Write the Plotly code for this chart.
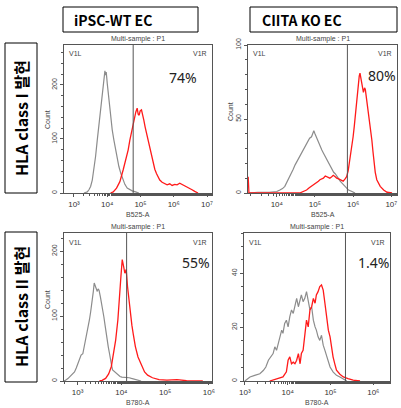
import numpy as np
import plotly.graph_objects as go

# ---------------- data (log10 intensity, counts) ----------------
p1_grey_log = [3.30, 3.40, 3.45, 3.50, 3.55, 3.60, 3.65, 3.70, 3.75, 3.80, 3.84, 3.87, 3.90, 3.93, 3.95, 3.97, 4.00, 4.03, 4.07, 4.11, 4.15, 4.20, 4.25, 4.30, 4.35, 4.41, 4.47, 4.53, 4.60, 4.67, 4.75, 4.85, 4.95]
p1_grey_cnt = [0, 2, 6, 12, 24, 43, 68, 98, 128, 160, 185, 203, 215, 226, 218, 224, 203, 185, 160, 138, 117, 98, 80, 63, 49, 36, 24, 16, 9, 6, 4, 2, 0]
p1_red_log = [4.10, 4.18, 4.28, 4.38, 4.48, 4.55, 4.58, 4.63, 4.68, 4.72, 4.76, 4.80, 4.83, 4.86, 4.90, 4.93, 4.96, 4.99, 5.03, 5.06, 5.10, 5.14, 5.18, 5.23, 5.28, 5.33, 5.38, 5.43, 5.48, 5.53, 5.58, 5.65, 5.73, 5.80, 5.88, 5.95, 6.03, 6.10, 6.18, 6.25, 6.33, 6.40, 6.48, 6.55, 6.63, 6.73]
p1_red_cnt = [0, 2, 9, 21, 43, 58, 67, 80, 98, 110, 123, 135, 141, 150, 157, 146, 144, 152, 154, 142, 135, 122, 111, 95, 80, 66, 55, 44, 36, 29, 24, 20, 18, 15, 17, 14, 16, 15, 18, 16, 13, 11, 9, 6, 3, 0]
p1_gate_log = 4.78

p2_grey_log = [3.25, 3.50, 3.80, 4.00, 4.08, 4.15, 4.21, 4.28, 4.34, 4.39, 4.43, 4.48, 4.52, 4.57, 4.61, 4.65, 4.69, 4.73, 4.76, 4.79, 4.82, 4.86, 4.91, 4.94, 4.97, 5.00, 5.03, 5.06, 5.09, 5.13, 5.18, 5.22, 5.26, 5.31, 5.35, 5.40, 5.44, 5.49, 5.53, 5.57, 5.61, 5.66, 5.70, 5.75, 5.79, 5.84, 5.88, 5.97, 6.05]
p2_grey_cnt = [0, 0.5, 0.5, 1, 2, 3, 4.5, 8, 11, 13, 16, 19, 21, 23, 25, 27, 29, 31, 33, 34, 36, 37, 38, 40, 42, 40, 38, 36, 34, 31, 29, 27, 25, 22, 20, 18, 16, 14, 13, 11, 10, 8, 6.8, 5.5, 4.5, 3, 2, 1, 0]
p2_red_log = [3.25, 3.27, 4.60, 4.65, 4.72, 4.78, 4.85, 4.91, 4.97, 5.04, 5.09, 5.13, 5.18, 5.22, 5.27, 5.31, 5.35, 5.39, 5.44, 5.48, 5.53, 5.57, 5.62, 5.66, 5.70, 5.74, 5.79, 5.83, 5.87, 5.90, 5.94, 5.97, 6.00, 6.03, 6.06, 6.08, 6.11, 6.14, 6.16, 6.18, 6.21, 6.23, 6.25, 6.27, 6.30, 6.32, 6.34, 6.36, 6.40, 6.43, 6.46, 6.49, 6.52, 6.55, 6.58, 6.62, 6.66, 6.71, 6.80, 6.89, 7.02]
p2_red_cnt = [11, 0, 0, 0.5, 1.5, 2, 3.5, 4.5, 6, 7, 8, 9, 9.5, 10, 11.5, 11, 10.5, 10, 11, 12, 11, 10, 9.5, 9, 8.5, 8, 9.5, 11, 15, 20, 26, 32, 38, 45, 53, 61, 69, 77, 79, 81, 76, 73, 70, 68, 71, 70, 66, 62, 56, 50, 43, 36, 28, 20, 14, 9, 6.5, 4.5, 2, 0.5, 0]
p2_gate_log = 5.85

p3_grey_log = [2.69, 2.71, 2.78, 2.86, 2.93, 2.97, 3.01, 3.05, 3.08, 3.12, 3.15, 3.19, 3.23, 3.27, 3.30, 3.33, 3.36, 3.38, 3.41, 3.43, 3.45, 3.47, 3.49, 3.52, 3.55, 3.58, 3.60, 3.63, 3.65, 3.68, 3.70, 3.73, 3.75, 3.78, 3.80, 3.83, 3.86, 3.90, 3.93, 3.97, 4.01, 4.06, 4.12, 4.18, 4.23, 4.34, 4.45]
p3_grey_cnt = [0, 0.5, 3.7, 8.8, 14, 20, 27, 34, 40, 42, 52, 63, 78, 94, 107, 120, 138, 151, 146, 140, 138, 142, 140, 130, 120, 108, 99, 85, 73, 62, 53, 42, 32, 23, 17, 15, 14, 11, 9, 7, 6, 6, 6, 5, 4, 2, 0]
p3_red_log = [3.50, 3.56, 3.64, 3.71, 3.77, 3.82, 3.87, 3.92, 3.96, 3.99, 4.02, 4.04, 4.05, 4.08, 4.11, 4.14, 4.18, 4.21, 4.24, 4.27, 4.32, 4.38, 4.45, 4.53, 4.60, 4.71, 4.86, 5.04, 5.27, 5.49, 5.86]
p3_red_cnt = [0, 1, 4, 11, 22, 42, 63, 94, 125, 161, 187, 182, 177, 166, 172, 146, 120, 99, 86, 73, 53, 37, 27, 14, 9, 5, 2, 1.5, 2, 0.5, 0]
p3_gate_log = 4.12

p4_grey_log = [3.00, 3.12, 3.23, 3.35, 3.43, 3.49, 3.55, 3.60, 3.66, 3.70, 3.74, 3.78, 3.82, 3.86, 3.89, 3.93, 3.97, 4.01, 4.05, 4.09, 4.13, 4.17, 4.21, 4.25, 4.29, 4.32, 4.36, 4.40, 4.44, 4.48, 4.52, 4.56, 4.60, 4.64, 4.67, 4.71, 4.75, 4.79, 4.83, 4.87, 4.91, 4.95, 4.99, 5.06, 5.14, 5.22, 5.30, 5.38]
p4_grey_cnt = [0, 1.5, 2.1, 2.7, 3.9, 5.2, 7.7, 9, 10.2, 12.7, 11.4, 13.9, 16.4, 18.9, 17.7, 21.4, 22.6, 20.1, 23.9, 26.4, 25.1, 28.2, 30.7, 27.6, 30.1, 32, 29.5, 30.7, 33.2, 30.1, 26.4, 27.6, 22.6, 20.1, 18.9, 16.4, 15.1, 17, 13.3, 11.4, 9, 7, 5.2, 3.4, 2.1, 1.5, 0.6, 0]
p4_red_log = [3.58, 3.74, 3.89, 3.97, 4.01, 4.05, 4.09, 4.13, 4.17, 4.21, 4.25, 4.29, 4.32, 4.36, 4.40, 4.44, 4.48, 4.52, 4.56, 4.60, 4.64, 4.67, 4.71, 4.75, 4.79, 4.83, 4.87, 4.91, 4.95, 4.99, 5.02, 5.06, 5.10, 5.14, 5.22, 5.30, 5.41, 5.53, 5.69]
p4_red_cnt = [0, 0.9, 1.5, 3.4, 7.7, 9, 6.4, 7, 6.4, 7.7, 10.2, 6.4, 10.2, 11.4, 17.7, 22.6, 20.1, 26.4, 27.6, 30.7, 28.9, 32, 33.2, 35.1, 35.7, 33.8, 28.9, 22.6, 18.9, 16.4, 12.7, 9, 6.4, 4, 2.5, 1.5, 0.9, 0.3, 0]
p4_gate_log = 5.35

col_titles = ["iPSC-WT EC", "CIITA KO EC"]
row_titles = ["HLA class I 발현", "HLA class II 발현"]
percents = ["74%", "80%", "55%", "1.4%"]
x_titles = ["B525-A", "B525-A", "B780-A", "B780-A"]

# ---------------- layout geometry ----------------
W, H = 401, 408
def px(x): return x / W
def py(y): return 1 - y / H

panels = [
    dict(x0=64, x1=212, y0=45, y1=193, xr=[2.70, 7.15], yr=[0, 274], xt=[3, 4, 5, 6, 7], ydt=100, ymin=20,
         grey=(p1_grey_log, p1_grey_cnt), red=(p1_red_log, p1_red_cnt), gate=p1_gate_log),
    dict(x0=248, x1=397, y0=45, y1=193, xr=[3.245, 7.15], yr=[0, 100], xt=[4, 5, 6, 7], ydt=50, ymin=10,
         grey=(p2_grey_log, p2_grey_cnt), red=(p2_red_log, p2_red_cnt), gate=p2_gate_log),
    dict(x0=64, x1=212, y0=233, y1=381, xr=[2.69, 6.07], yr=[0, 228], xt=[3, 4, 5, 6], ydt=100, ymin=20,
         grey=(p3_grey_log, p3_grey_cnt), red=(p3_red_log, p3_red_cnt), gate=p3_gate_log),
    dict(x0=244, x1=390, y0=233, y1=381, xr=[2.98, 6.39], yr=[0, 55], xt=[3, 4, 5, 6], ydt=20, ymin=5,
         grey=(p4_grey_log, p4_grey_cnt), red=(p4_red_log, p4_red_cnt), gate=p4_gate_log),
]

sup = {"3": "³", "4": "⁴", "5": "⁵", "6": "⁶", "7": "⁷"}
FONT = "Liberation Sans, Arial, sans-serif"
AX = "#555555"

fig = go.Figure()
layout = dict(width=W, height=H, margin=dict(l=0, r=0, t=0, b=0, pad=0), autosize=False,
              paper_bgcolor="white", plot_bgcolor="white", showlegend=False)
annotations = []
shapes = []

def note(x, y, text, size=7, color="#444", family=FONT, xanchor="center", yanchor="middle", angle=0):
    annotations.append(dict(x=px(x), y=py(y), xref="paper", yref="paper", text=text,
                            xanchor=xanchor, yanchor=yanchor, textangle=angle, showarrow=False,
                            font=dict(family=family, size=size, color=color)))

for i, p in enumerate(panels):
    n = "" if i == 0 else str(i + 1)
    xa, ya = "x" + n, "y" + n
    fig.add_trace(go.Scatter(x=10 ** np.array(p["grey"][0]), y=p["grey"][1], mode="lines",
                             line=dict(color="#8c8c8c", width=1.2), xaxis=xa, yaxis=ya))
    fig.add_trace(go.Scatter(x=10 ** np.array(p["red"][0]), y=p["red"][1], mode="lines",
                             line=dict(color="#ff1a1a", width=1.3), xaxis=xa, yaxis=ya))
    fig.add_trace(go.Scatter(x=[10 ** p["gate"], 10 ** p["gate"]], y=[p["yr"][0], p["yr"][1]], mode="lines",
                             line=dict(color="#555555", width=1), xaxis=xa, yaxis=ya))
    layout["xaxis" + n] = dict(
        type="log", range=p["xr"], domain=[px(p["x0"]), px(p["x1"])], anchor=ya, automargin=False,
        showline=True, linecolor=AX, linewidth=1, mirror=True, showgrid=False, zeroline=False,
        ticks="outside", ticklen=3, tickcolor=AX,
        tickvals=[10 ** t for t in p["xt"]], ticktext=["10" + sup[str(t)] for t in p["xt"]],
        tickfont=dict(family=FONT, size=8, color="#333"),
        minor=dict(ticks="outside", ticklen=2, tickcolor=AX, showgrid=False))
    layout["yaxis" + n] = dict(
        range=p["yr"], domain=[py(p["y1"]), py(p["y0"])], anchor=xa, automargin=False,
        showline=True, linecolor=AX, linewidth=1, mirror=True, showgrid=False, zeroline=False,
        ticks="outside", ticklen=3, tickcolor=AX, dtick=p["ydt"], tick0=0, tickangle=-90,
        tickfont=dict(family=FONT, size=7, color="#444"),
        minor=dict(ticks="outside", ticklen=2, tickcolor=AX, dtick=p["ymin"], showgrid=False))
    cx = (p["x0"] + p["x1"]) / 2
    note(cx, p["y0"] - 6, "Multi-sample : P1")
    note(p["x0"] + 3, p["y0"] + 9, "V1L", xanchor="left")
    note(p["x1"] - 3, p["y0"] + 9, "V1R", xanchor="right")
    note(cx, p["y1"] + 21, x_titles[i])

# Count labels
for (x, y) in [(47, 120), (230, 112), (47, 300)]:
    note(x, y, "Count", angle=-90)

# percentages
for (x, y), t in zip([(183, 77), (382, 75), (196, 262), (373, 262)], percents):
    note(x, y, t, size=14, color="#222", family="Noto Sans, sans-serif")

# column headers
for (x0, x1, tx), t in zip([(63, 198, 72), (250, 397, 260)], col_titles):
    shapes.append(dict(type="rect", xref="paper", yref="paper", x0=px(x0), x1=px(x1), y0=py(32), y1=py(7),
                       line=dict(color="black", width=1), fillcolor="white", layer="below"))
    note(tx, 19.5, "<b>" + t + "</b>", size=14, color="black",
         family="Noto Sans CJK KR, Noto Sans, sans-serif", xanchor="left")

# row headers
for (y0, y1), t in zip([(43, 193), (232, 382)], row_titles):
    shapes.append(dict(type="rect", xref="paper", yref="paper", x0=px(5), x1=px(37), y0=py(y1), y1=py(y0),
                       line=dict(color="black", width=1), fillcolor="white", layer="below"))
    note(21, (y0 + y1) / 2, "<b>" + t + "</b>", size=16, color="black",
         family="Noto Sans CJK KR, Noto Sans, sans-serif", angle=-90)

layout["annotations"] = annotations
layout["shapes"] = shapes
fig.update_layout(**layout)
fig.write_html("out.html", config={"displayModeBar": False},
               post_script="document.body.style.margin='0';document.body.style.overflow='hidden';")
